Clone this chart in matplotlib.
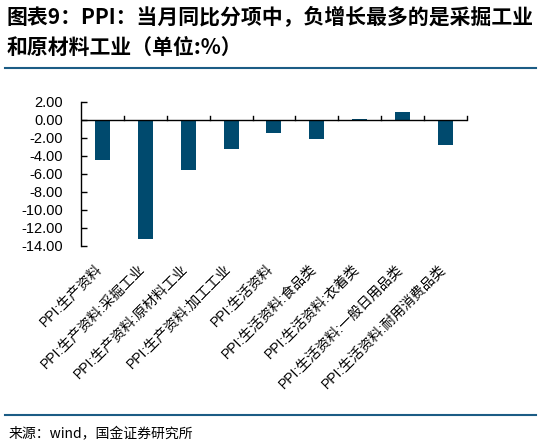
import matplotlib
matplotlib.use("Agg")
import matplotlib.pyplot as plt
from matplotlib.lines import Line2D

plt.rcParams['font.family'] = ['Liberation Sans', 'Noto Sans CJK SC', 'DejaVu Sans']

categories = ["PPI:生产资料", "PPI:生产资料:采掘工业", "PPI:生产资料:原材料工业",
              "PPI:生产资料:加工工业", "PPI:生活资料", "PPI:生活资料:食品类",
              "PPI:生活资料:衣着类", "PPI:生活资料:一般日用品类", "PPI:生活资料:耐用消费品类"]
values = [-4.5, -13.3, -5.6, -3.3, -1.5, -2.1, 0.1, 0.8, -2.8]
yticks = [2, 0, -2, -4, -6, -8, -10, -12, -14]
title_lines = ["图表9：PPI：当月同比分项中，负增长最多的是采掘工业", "和原材料工业（单位:%）"]
source = "来源：wind，国金证券研究所"

fig = plt.figure(figsize=(5.41, 4.46), dpi=100)
ax = fig.add_axes([0.1497, 0.449, 0.7135, 0.323])

bar_color = "#004A6E"
x = list(range(len(categories)))
ax.bar(x, values, width=0.35, color=bar_color, zorder=3)
ax.set_xlim(-0.5, len(categories) - 0.5)
ax.set_ylim(-14, 2)
ax.set_yticks(yticks)
ax.set_yticklabels([f"{v:.2f}" for v in yticks], fontsize=10.5)
ax.tick_params(axis='y', direction='in', length=4, width=1, pad=13)

for s in ['top', 'right', 'bottom']:
    ax.spines[s].set_visible(False)
ax.spines['left'].set_linewidth(1)

# zero line with boundary ticks
ax.axhline(0, color='black', linewidth=1, zorder=4)
ax.set_xticks(x)
ax.set_xticklabels([])
ax.tick_params(axis='x', length=0)
for b in [i + 0.5 for i in x]:
    ax.plot([b, b], [0, 0.4], color='black', linewidth=1, zorder=4, clip_on=False)

for i, c in enumerate(categories):
    ax.annotate(c, xy=(i, -14), xycoords='data', xytext=(-2, -15), textcoords='offset points',
                rotation=45, ha='right', va='center', rotation_mode='anchor', fontsize=10,
                family=['Liberation Sans', 'Noto Sans CJK SC'])

for i, line in enumerate(title_lines):
    fig.text(0.012, 1 - (17 + 30 * i) / 446, line, fontsize=15, fontweight='bold',
             style='italic', va='center', ha='left',
             family=['Noto Sans CJK SC', 'DejaVu Sans'])

rule_color = "#1B5C85"
fig.add_artist(Line2D([0.01, 0.99], [1 - 68 / 446, 1 - 68 / 446], color=rule_color, linewidth=1.5))
fig.add_artist(Line2D([0.01, 0.99], [1 - 415 / 446, 1 - 415 / 446], color=rule_color, linewidth=1.5))
fig.text(0.015, 1 - 434 / 446, source, fontsize=10, va='center', ha='left',
         family=['Noto Sans CJK SC', 'DejaVu Sans'])

fig.savefig("out.png", dpi=100)
